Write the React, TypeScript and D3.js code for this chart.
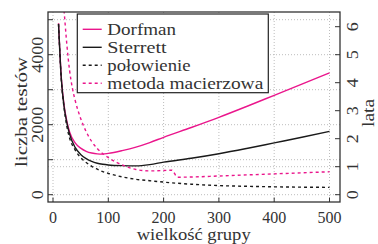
import React from 'react'
import * as d3 from 'd3'

// group sizes and test counts
const sizes = [10, 15, 20, 25, 30, 40, 50, 60, 70, 80, 90, 100, 125, 150, 175, 200, 250, 300, 350, 400, 450, 500]
const dorfman = [4900, 3350, 2560, 2100, 1790, 1480, 1330, 1240, 1190, 1165, 1160, 1180, 1260, 1360, 1490, 1640, 1920, 2210, 2520, 2840, 3160, 3480]
const sterrett = [4880, 3320, 2520, 2060, 1730, 1350, 1150, 1030, 950, 900, 870, 850, 830, 825, 860, 930, 1040, 1170, 1320, 1480, 1640, 1810]
const halving = [4870, 3290, 2480, 1960, 1620, 1280, 1060, 920, 810, 730, 660, 610, 510, 440, 400, 360, 300, 260, 240, 225, 215, 210]
const matrixSizes = [18, 20, 25, 30, 35, 40, 50, 60, 70, 80, 100, 125, 150, 175, 200, 215, 225, 250, 300, 350, 400, 450, 500]
const matrix = [5600, 5250, 4300, 3550, 3050, 2700, 2180, 1800, 1520, 1320, 1060, 850, 720, 680, 690, 700, 500, 505, 535, 565, 595, 625, 655]

const xTicks = [0, 100, 200, 300, 400, 500]
const leftTicks = [0, 1000, 2000, 3000, 4000, 5000]
const leftLabels = [0, 2000, 4000]
const rightTicks = [0, 1, 2, 3, 4, 5, 6]
const testsPerYear = 800

const PINK = '#ea168c'
const BLACK = '#1a1a1a'
const FONT = "'Liberation Serif', 'DejaVu Serif', serif"

const W = 378
const H = 244
const frame = {left: 48, top: 12, right: 340, bottom: 202}

function App() {
  const x = d3.scaleLinear().domain([0, 500]).range([53, 329.5])
  const y = d3.scaleLinear().domain([0, 5000]).range([194.7, 19.7])
  const yr = d3.scaleLinear().domain([0, 6]).range([194.7, 194.7 - 6 * 28])

  const line = d3
    .line<[number, number]>()
    .x(d => x(d[0]))
    .y(d => y(d[1]))
    .curve(d3.curveMonotoneX)

  const series = [
    {name: 'Dorfman', xs: sizes, ys: dorfman, color: PINK, dash: undefined, tl: 68.7},
    {name: 'Sterrett', xs: sizes, ys: sterrett, color: BLACK, dash: undefined, tl: 59.3},
    {name: 'połowienie', xs: sizes, ys: halving, color: BLACK, dash: '3,3', tl: 83.3},
    {name: 'metoda macierzowa', xs: matrixSizes, ys: matrix, color: PINK, dash: '3,3', tl: 156},
  ]

  // horizontal grid: every 1000 tests plus the 1-year line
  const gridH = [...leftTicks.map(v => y(v)), y(testsPerYear)]

  const txt = {fontFamily: FONT}
  const digits = (v: number) => String(v).length

  return (
    <svg width={W} height={H} style={{position: 'absolute', left: 0, top: 0, background: '#fff'}}>
      <defs>
        <clipPath id="plot">
          <rect x={frame.left} y={frame.top} width={frame.right - frame.left} height={frame.bottom - frame.top} />
        </clipPath>
      </defs>
      {/* grid */}
      <g stroke="#b5b5b5" strokeWidth={0.9} strokeDasharray="1,2">
        {xTicks.map(t => (
          <line key={'gx' + t} x1={x(t)} x2={x(t)} y1={frame.top} y2={frame.bottom} />
        ))}
        {gridH.map((gy, i) => (
          <line key={'gy' + i} x1={frame.left} x2={frame.right} y1={gy} y2={gy} />
        ))}
      </g>
      {/* curves */}
      <g clipPath="url(#plot)" fill="none" strokeWidth={1.4}>
        {series.map(s => (
          <path
            key={s.name}
            d={line(s.xs.map((v, i) => [v, s.ys[i]] as [number, number])) || ''}
            stroke={s.color}
            strokeDasharray={s.dash}
          />
        ))}
      </g>
      {/* ticks */}
      <g stroke="#333" strokeWidth={1}>
        {xTicks.map(t => (
          <line key={'tx' + t} x1={x(t)} x2={x(t)} y1={frame.bottom} y2={frame.bottom - 4.5} />
        ))}
        {leftTicks.map(t => (
          <line key={'tl' + t} x1={frame.left} x2={frame.left + 5} y1={y(t)} y2={y(t)} />
        ))}
        {rightTicks.map(t => (
          <line key={'tr' + t} x1={frame.right} x2={frame.right - 5} y1={yr(t)} y2={yr(t)} />
        ))}
      </g>
      <rect
        x={frame.left}
        y={frame.top}
        width={frame.right - frame.left}
        height={frame.bottom - frame.top}
        fill="none"
        stroke="#333"
        strokeWidth={1.3}
      />
      {/* tick labels */}
      <g fontSize={16.5} fill="#333" textAnchor="middle" style={txt}>
        {xTicks.map(t => (
          <text
            key={'lx' + t}
            x={x(t)}
            y={222.5}
            textLength={8 * digits(t)}
            lengthAdjust="spacingAndGlyphs"
            style={txt}
          >
            {t}
          </text>
        ))}
        {leftLabels.map(t => (
          <text
            key={'ll' + t}
            transform={`translate(43.3,${y(t)}) rotate(-90)`}
            textLength={9 * digits(t)}
            lengthAdjust="spacingAndGlyphs"
            style={txt}
          >
            {t}
          </text>
        ))}
        {rightTicks.map(t => (
          <text
            key={'lr' + t}
            transform={`translate(358.3,${yr(t)}) rotate(-90)`}
            textLength={9}
            lengthAdjust="spacingAndGlyphs"
            style={txt}
          >
            {t}
          </text>
        ))}
        <text x={193.7} y={240} textLength={114} lengthAdjust="spacingAndGlyphs" style={txt}>
          wielkość grupy
        </text>
        <text transform="translate(26.5,112) rotate(-90)" textLength={110} lengthAdjust="spacingAndGlyphs" style={txt}>
          liczba testów
        </text>
        <text transform="translate(374,113) rotate(-90)" textLength={28} lengthAdjust="spacingAndGlyphs" style={txt}>
          lata
        </text>
      </g>
      {/* legend */}
      <g>
        <rect x={77.3} y={14} width={191} height={78.7} fill="#fff" stroke="#222" strokeWidth={1.2} />
        {series.map((s, i) => {
          const ly = 29.3 + i * 18
          return (
            <g key={'lg' + s.name}>
              <line x1={82.7} x2={101.7} y1={ly} y2={ly} stroke={s.color} strokeWidth={1.4} strokeDasharray={s.dash} />
              <text
                x={107.3}
                y={ly + 5.5}
                fontSize={16.5}
                fill="#333"
                textLength={s.tl}
                lengthAdjust="spacingAndGlyphs"
                style={txt}
              >
                {s.name}
              </text>
            </g>
          )
        })}
      </g>
    </svg>
  )
}

export default App
